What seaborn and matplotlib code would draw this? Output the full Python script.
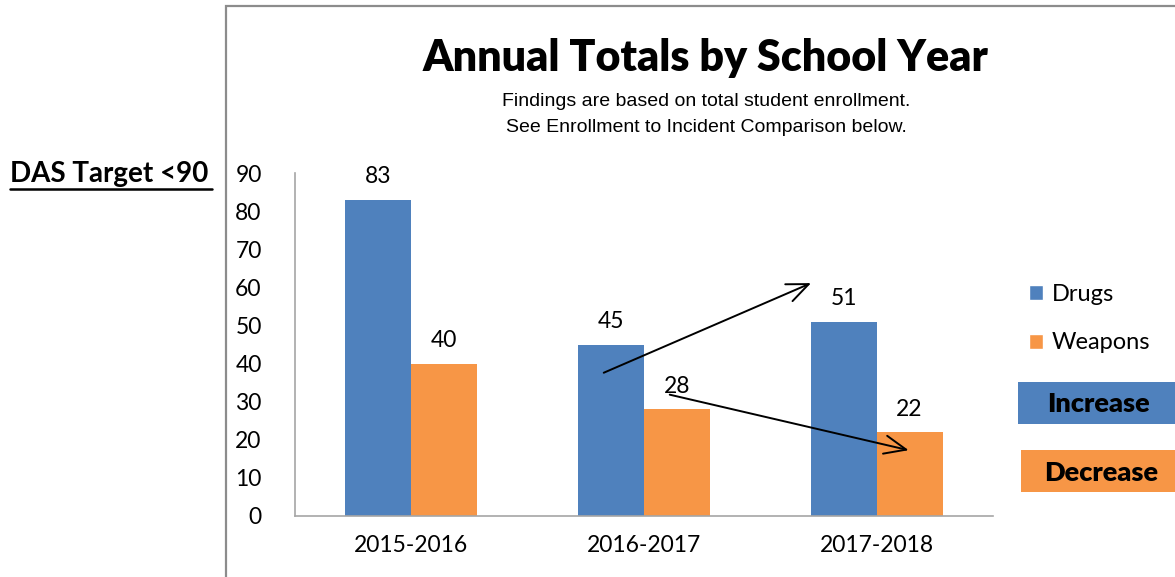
import pandas as pd
import matplotlib.pyplot as plt
import seaborn as sns
from matplotlib.patches import Rectangle, Patch

years = ['2015-2016', '2016-2017', '2017-2018']
drugs = [83, 45, 51]
weapons = [40, 28, 22]

blue = '#4F81BD'
orange = '#F79646'

data = pd.DataFrame({
    'Year': years * 2,
    'Count': drugs + weapons,
    'Type': ['Drugs'] * 3 + ['Weapons'] * 3,
})

sns.set_theme(style='white')
plt.rcParams['font.family'] = ['Lato', 'DejaVu Sans']
plt.rcParams['text.color'] = 'black'

fig = plt.figure(figsize=(11.75, 5.77), dpi=100)
ax = fig.add_axes([295 / 1175, 1 - 516 / 577, (993 - 295) / 1175, (516 - 173) / 577])

sns.barplot(data=data, x='Year', y='Count', hue='Type', palette=[blue, orange],
            width=0.566, gap=0, saturation=1, ax=ax, legend=False,
            edgecolor='none', linewidth=0)

ax.set_ylim(0, 90)
ax.set_yticks(range(0, 91, 10))
ax.set_xlabel('')
ax.set_ylabel('')
ax.tick_params(axis='both', length=0, labelsize=16.5, colors='black')
ax.tick_params(axis='y', pad=24)
ax.tick_params(axis='x', pad=14)
for side in ['top', 'right']:
    ax.spines[side].set_visible(False)
for side in ['left', 'bottom']:
    ax.spines[side].set_color('#A6A6A6')
    ax.spines[side].set_linewidth(1.2)

for cont in ax.containers:
    ax.bar_label(cont, padding=9, fontsize=16.5, color='black')

# trend arrows
arrow = dict(arrowstyle='->,head_length=1.3,head_width=0.55', color='black', lw=1.4)
ax.annotate('', xy=(1.729, 61.4), xytext=(0.816, 37.3), arrowprops=arrow)
ax.annotate('', xy=(2.149, 17.1), xytext=(1.099, 32.0), arrowprops=arrow)

# chart frame
fig.patches.append(Rectangle((226 / 1175, -0.1), 1.0, 1 - 6 / 577 + 0.1, transform=fig.transFigure,
                             fill=False, edgecolor='#8C8C8C', linewidth=1.6))

fig.text(706 / 1175, 1 - 58 / 577, 'Annual Totals by School Year', ha='center', va='center',
         fontsize=31, fontweight='heavy')
sub_font = ['Liberation Sans Narrow', 'Liberation Sans', 'DejaVu Sans']
fig.text(706 / 1175, 1 - 101 / 577, 'Findings are based on total student enrollment.', ha='center',
         va='center', fontsize=14, family=sub_font)
fig.text(706 / 1175, 1 - 128 / 577, 'See Enrollment to Incident Comparison below.', ha='center',
         va='center', fontsize=14, family=sub_font)

fig.text(10 / 1175, 1 - 174 / 577, 'DAS Target <90', ha='left', va='center', fontsize=20,
         fontweight='bold')
fig.add_artist(plt.Line2D([10 / 1175, 212 / 1175], [1 - 189 / 577, 1 - 189 / 577], color='black', lw=1.8))

legend_elements = [Patch(facecolor=blue, label='Drugs'), Patch(facecolor=orange, label='Weapons')]
fig.legend(handles=legend_elements, loc='upper left', bbox_to_anchor=(1008 / 1175, 1 - 263 / 577),
           frameon=False, fontsize=17, handlelength=0.6, handleheight=0.6, handletextpad=0.35,
           labelspacing=1.15)

fig.patches.append(Rectangle((1018 / 1175, 1 - 424 / 577), 0.2, 42 / 577, transform=fig.transFigure,
                             facecolor=blue, edgecolor='none'))
fig.text(1098 / 1175, 1 - 404 / 577, 'Increase', ha='center', va='center', fontsize=19.5,
         fontweight='heavy')
fig.patches.append(Rectangle((1021 / 1175, 1 - 492 / 577), 0.2, 42 / 577, transform=fig.transFigure,
                             facecolor=orange, edgecolor='none'))
fig.text(1101 / 1175, 1 - 473 / 577, 'Decrease', ha='center', va='center', fontsize=19.5,
         fontweight='heavy')

fig.savefig('out.png', dpi=100)
